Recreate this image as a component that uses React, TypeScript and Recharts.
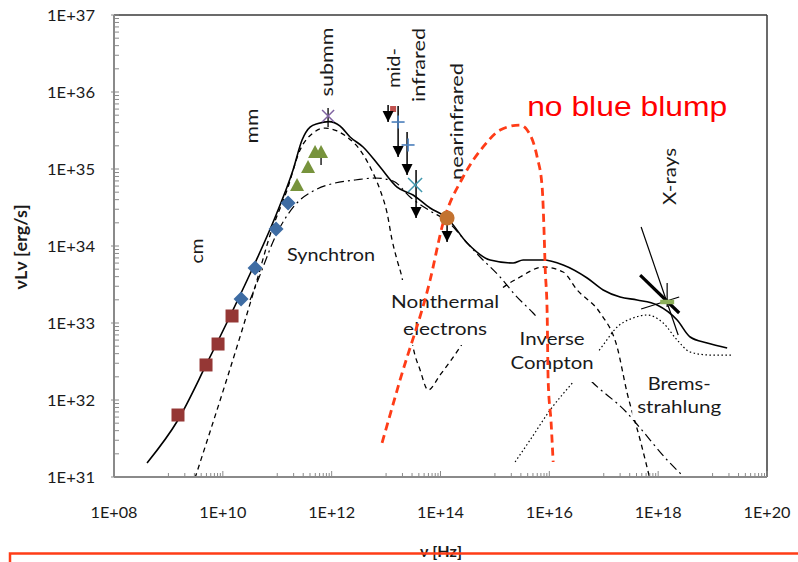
import React from 'react';
import { ComposedChart, Line, Scatter, XAxis, YAxis, ReferenceLine, ReferenceDot } from 'recharts';

const FONT = "Lato, 'Open Sans', sans-serif";
const ARIAL = "'Liberation Sans', Arial, sans-serif";
const AXIS_GRAY = '#8a8a8a';

// ---- values: log10(nu [Hz]) and log10(nuLnu [erg/s]) ----
const totalLogNu = [8.607, 9.176, 9.71, 10.169, 10.592, 10.978, 11.29, 11.456, 11.603, 11.75, 11.95, 12.15, 12.338, 12.577, 12.89, 13.202, 13.496, 13.809, 14.121, 14.489, 14.912, 15.335, 15.518, 15.886, 16.254, 16.695, 16.989, 17.301, 17.614, 17.982, 18.349, 18.588, 18.901, 19.268];
const totalLogL = [31.182, 31.74, 32.481, 33.143, 33.779, 34.403, 34.987, 35.377, 35.545, 35.59, 35.615, 35.56, 35.416, 35.286, 35.026, 34.766, 34.662, 34.494, 34.364, 34.039, 33.818, 33.779, 33.818, 33.818, 33.753, 33.584, 33.429, 33.338, 33.299, 33.234, 33.039, 32.818, 32.74, 32.675];

const thermalLogNu = [9.489, 10.629, 10.868, 11.18, 11.419, 11.658, 11.879, 12.099, 12.283, 12.522, 12.706, 12.89, 13.018, 13.11, 13.202, 13.294, 13.404, 13.496, 13.625, 13.772, 13.993, 14.36, 14.728, 15.04, 15.463, 15.886, 16.254, 16.511, 16.934, 17.246, 17.43, 17.669, 17.853];
const thermalLogL = [30.987, 33.558, 34.143, 34.727, 35.247, 35.468, 35.532, 35.494, 35.416, 35.247, 35.026, 34.727, 34.429, 34.078, 33.818, 33.584, 33.104, 32.688, 32.39, 32.13, 32.325, 32.688, 33.104, 33.39, 33.597, 33.727, 33.662, 33.429, 33.13, 32.688, 32.091, 31.481, 30.961];

const nonthermalLogNu = [10.5, 10.647, 10.996, 11.327, 11.695, 12.063, 12.43, 12.798, 13.129, 13.441, 13.809, 14.121, 14.489, 14.728, 15.096, 15.371, 15.702, 16.199, 16.75, 17.43, 17.669, 18.165, 18.533];
const nonthermalLogL = [33.299, 33.558, 34.169, 34.532, 34.727, 34.818, 34.857, 34.883, 34.844, 34.636, 34.455, 34.325, 34.039, 33.857, 33.597, 33.364, 33.13, 32.714, 32.26, 31.831, 31.636, 31.221, 30.961];

const bremsLogNu = [15.371, 15.647, 16.015, 16.438, 16.75, 16.989, 17.246, 17.54, 17.798, 18.092, 18.349, 18.588, 18.956, 19.379];
const bremsLogL = [31.195, 31.481, 31.87, 32.234, 32.494, 32.714, 32.948, 33.065, 33.104, 33.0, 32.779, 32.623, 32.584, 32.584];

const blumpLogNu = [12.926, 13.257, 13.809, 14.048, 14.415, 14.783, 15.096, 15.463, 15.592, 15.776, 15.868, 15.904, 15.923, 15.96, 15.978, 16.033, 16.07];
const blumpLogL = [31.442, 32.26, 33.558, 34.299, 34.896, 35.286, 35.506, 35.571, 35.506, 35.156, 34.766, 34.169, 33.727, 33.13, 32.26, 31.701, 31.195];

// observed points
const cmLogNu = [9.176, 9.691, 9.912, 10.169];
const cmLogL = [31.805, 32.455, 32.727, 33.091];
const mmLogNu = [10.335, 10.592, 10.978, 11.199];
const mmLogL = [33.312, 33.714, 34.221, 34.558];
const triLogNu = [11.364, 11.566, 11.695, 11.805];
const triLogL = [34.792, 35.026, 35.221, 35.221];
const submmLogNu = [11.934];
const submmLogL = [35.688];
const midRedLogNu = [13.129];
const midRedLogL = [35.779];
const midPlusLogNu = [13.221, 13.404];
const midPlusLogL = [35.61, 35.312];
const midCrossLogNu = [13.533];
const midCrossLogL = [34.792];
const nirLogNu = [14.121];
const nirLogL = [34.364];

// upper limits (arrows)
const arrowLogNu = [13.037, 13.221, 13.386, 13.551, 14.121];
const arrowTopLogL = [35.831, 35.818, 35.481, 34.987, 34.364];
const arrowTipLogL = [35.61, 35.156, 34.922, 34.364, 34.052];

// error bars [logNu, logL top, logL bottom]
const errBars = [[11.805, 35.286, 35.052], [11.934, 35.792, 35.545]];

// X-ray bow-tie [logNu1, logL1, logNu2, logL2]
const xrayThin = [[17.687, 34.247, 18.368, 32.844], [17.687, 33.182, 18.386, 33.338]];
const xrayThick = [[17.669, 33.623, 18.386, 33.13]];
const xrayErr = [[18.165, 33.52, 18.165, 33.208]];
const xrayBar = [[18.037, 33.273, 18.294, 33.273]];

// axes
const xMajorExp = [8, 10, 12, 14, 16, 18, 20];
const xTickLabels = ['1E+08', '1E+10', '1E+12', '1E+14', '1E+16', '1E+18', '1E+20'];
const xMinorExp = [9, 11, 13, 15, 17, 19];
const yMajorExp = [31, 32, 33, 34, 35, 36, 37];
const yTickLabels = ['1E+31', '1E+32', '1E+33', '1E+34', '1E+35', '1E+36', '1E+37'];
const yMinorExp = [31, 32, 33, 34, 35, 36];
const minorSteps = [2, 3, 4, 5, 6, 7, 8, 9];

const p10 = (v: number) => Math.pow(10, v);
const pts = (lx: number[], ly: number[]) => lx.map((v, i) => ({ x: p10(v), y: p10(ly[i]) }));

const xTicks = [
  ...xMajorExp.map(p10),
  ...xMinorExp.flatMap((e) => [1, ...minorSteps].map((k) => k * p10(e))),
].sort((a, b) => a - b);
const yTicks = [
  ...yMajorExp.map(p10),
  ...yMinorExp.flatMap((e) => minorSteps.map((k) => k * p10(e))),
].sort((a, b) => a - b);

// annotations: anchor in data coords (log), text lines
type Block = {
  lx: number; ly: number; lines: string[]; lens: number[]; rotate?: boolean; lh?: number;
  bg?: [number, number, number, number]; color?: string; size?: number; family?: string;
};
const annotations: Block[] = [
  { lx: 9.636, ly: 33.935, lines: ['cm'], lens: [25], rotate: true },
  { lx: 10.647, ly: 35.558, lines: ['mm'], lens: [35], rotate: true },
  { lx: 12.026, ly: 36.39, lines: ['submm'], lens: [69], rotate: true },
  { lx: 13.257, ly: 36.312, lines: ['mid-'], lens: [40], rotate: true },
  { lx: 13.717, ly: 36.351, lines: ['infrared'], lens: [74], rotate: true },
  { lx: 14.415, ly: 35.617, lines: ['nearinfrared'], lens: [117], rotate: true },
  { lx: 18.331, ly: 34.903, lines: ['X-rays'], lens: [57], rotate: true },
  { lx: 11.989, ly: 33.805, lines: ['Synchtron'], lens: [88], bg: [-47, -18, 94, 24] },
  { lx: 14.085, ly: 33.195, lines: ['Nonthermal', 'electrons'], lens: [108, 84], lh: 27, bg: [-57, -28, 114, 65] },
  { lx: 16.051, ly: 32.714, lines: ['Inverse', 'Compton'], lens: [65, 83], lh: 24, bg: [-47, -27, 93, 64] },
  { lx: 18.386, ly: 32.13, lines: ['Brems-', 'strahlung'], lens: [63, 84], lh: 23, bg: [-47, -22, 96, 52] },
];
const blumpLabel: Block = { lx: 17.43, ly: 35.688, lines: ['no blue blump'], lens: [200], color: '#ff0000', size: 27, family: ARIAL };

function Annot(props: any) {
  const { cx, cy, block } = props;
  const b: Block = block;
  const size = b.size ?? 18;
  const color = b.color ?? '#1a1a1a';
  const family = b.family ?? FONT;
  if (b.rotate) {
    return (
      <g transform={`translate(${cx},${cy}) rotate(-90)`}>
        {b.lines.map((t, i) => (
          <text key={i} x={0} y={i * (b.lh ?? 0)} textAnchor="middle" fontFamily={family} fontSize={size} fill={color}
            textLength={b.lens[i]} lengthAdjust="spacingAndGlyphs">{t}</text>
        ))}
      </g>
    );
  }
  return (
    <g>
      {b.bg && <rect x={cx + b.bg[0]} y={cy + b.bg[1]} width={b.bg[2]} height={b.bg[3]} fill="#ffffff" />}
      {b.lines.map((t, i) => (
        <text key={i} x={cx} y={cy + i * (b.lh ?? 0)} textAnchor="middle" fontFamily={family} fontSize={size} fill={color}
          textLength={b.lens[i]} lengthAdjust="spacingAndGlyphs">{t}</text>
      ))}
    </g>
  );
}

function XTick(props: any) {
  const { x, y, payload } = props;
  const lv = Math.log10(payload.value);
  const idx = xMajorExp.findIndex((e) => Math.abs(lv - e) < 1e-6);
  return (
    <g>
      <line x1={x} x2={x} y1={y} y2={y - (idx >= 0 ? 6 : 4)} stroke={AXIS_GRAY} strokeWidth={1} />
      {idx >= 0 && (
        <text x={x} y={y + 41} textAnchor="middle" fontFamily={FONT} fontSize={16} fill="#1a1a1a"
          textLength={47} lengthAdjust="spacingAndGlyphs">{xTickLabels[idx]}</text>
      )}
    </g>
  );
}

function YTick(props: any) {
  const { x, y, payload } = props;
  const lv = Math.log10(payload.value);
  const idx = yMajorExp.findIndex((e) => Math.abs(lv - e) < 1e-6);
  return (
    <g>
      <line x1={x - (idx >= 0 ? 3 : 0)} x2={x + 5} y1={y} y2={y} stroke={AXIS_GRAY} strokeWidth={1} />
      {idx >= 0 && (
        <text x={x - 19} y={y + 6} textAnchor="end" fontFamily={FONT} fontSize={16} fill="#1a1a1a"
          textLength={48} lengthAdjust="spacingAndGlyphs">{yTickLabels[idx]}</text>
      )}
    </g>
  );
}

const squareShape = (s: number, c: string) => (p: any) => <rect x={p.cx - s / 2} y={p.cy - s / 2} width={s} height={s} fill={c} />;
const diamondShape = (s: number, c: string) => (p: any) => (
  <polygon points={`${p.cx},${p.cy - s} ${p.cx + s},${p.cy} ${p.cx},${p.cy + s} ${p.cx - s},${p.cy}`} fill={c} />
);
const triangleShape = (s: number, c: string) => (p: any) => (
  <polygon points={`${p.cx},${p.cy - s} ${p.cx + s},${p.cy + s * 0.85} ${p.cx - s},${p.cy + s * 0.85}`} fill={c} />
);
const crossShape = (s: number, c: string) => (p: any) => (
  <g stroke={c} strokeWidth={1.5}>
    <line x1={p.cx - s} y1={p.cy - s} x2={p.cx + s} y2={p.cy + s} />
    <line x1={p.cx - s} y1={p.cy + s} x2={p.cx + s} y2={p.cy - s} />
  </g>
);
const plusShape = (s: number, c: string) => (p: any) => (
  <g stroke={c} strokeWidth={1.6}>
    <line x1={p.cx - s} y1={p.cy} x2={p.cx + s} y2={p.cy} />
    <line x1={p.cx} y1={p.cy - s} x2={p.cx} y2={p.cy + s} />
  </g>
);
const circleShape = (r: number, c: string) => (p: any) => <circle cx={p.cx} cy={p.cy} r={r} fill={c} />;
const arrowHead = (p: any) => (
  <polygon points={`${p.cx - 5.5},${p.cy - 11} ${p.cx + 5.5},${p.cy - 11} ${p.cx},${p.cy}`} fill="#000" />
);
const noShape = () => <g />;

const seg = (s: number[]) => [{ x: p10(s[0]), y: p10(s[1]) }, { x: p10(s[2]), y: p10(s[3]) }] as any;

export default function App() {
  return (
    <div style={{ position: 'absolute', left: 0, top: 0, width: 798, height: 562, background: '#fff', overflow: 'hidden' }}>
      <ComposedChart width={798} height={562} margin={{ top: 15, right: 31, bottom: 0, left: 0 }}>
        <XAxis dataKey="x" type="number" scale="log" domain={[1e8, 1e20]} allowDataOverflow ticks={xTicks} interval={0}
          tick={(p: any) => <XTick {...p} />} tickLine={false} tickSize={0} tickMargin={0} height={85}
          axisLine={{ stroke: AXIS_GRAY, strokeWidth: 2 }} />
        <YAxis dataKey="y" type="number" scale="log" domain={[1e31, 1e37]} allowDataOverflow ticks={yTicks} interval={0}
          tick={(p: any) => <YTick {...p} />} tickLine={false} tickSize={0} tickMargin={0} width={114}
          axisLine={{ stroke: AXIS_GRAY, strokeWidth: 2 }} />
        <ReferenceLine y={1e37} stroke="#3a3a3a" strokeWidth={1.5} ifOverflow="visible" />
        <ReferenceLine x={1e20} stroke="#3a3a3a" strokeWidth={1.5} ifOverflow="visible" />

        <Line data={pts(bremsLogNu, bremsLogL)} dataKey="y" type="monotone" stroke="#000" strokeWidth={1.2}
          strokeDasharray="1.5 2.5" dot={false} activeDot={false} isAnimationActive={false} />
        <Line data={pts(nonthermalLogNu, nonthermalLogL)} dataKey="y" type="monotone" stroke="#000" strokeWidth={1.2}
          strokeDasharray="9 4 2 4" dot={false} activeDot={false} isAnimationActive={false} />
        <Line data={pts(thermalLogNu, thermalLogL)} dataKey="y" type="monotone" stroke="#000" strokeWidth={1.3}
          strokeDasharray="5 4" dot={false} activeDot={false} isAnimationActive={false} />
        <Line data={pts(totalLogNu, totalLogL)} dataKey="y" type="monotone" stroke="#000" strokeWidth={1.6}
          dot={false} activeDot={false} isAnimationActive={false} />

        {annotations.map((b, i) => (
          <ReferenceDot key={`a${i}`} x={p10(b.lx)} y={p10(b.ly)} r={0} ifOverflow="visible"
            shape={(p: any) => <Annot {...p} block={b} />} />
        ))}
        <ReferenceDot x={p10(blumpLabel.lx)} y={p10(blumpLabel.ly)} r={0} ifOverflow="visible"
          shape={(p: any) => <Annot {...p} block={blumpLabel} />} />

        {arrowLogNu.map((v, i) => (
          <ReferenceLine key={`s${i}`} segment={seg([v, arrowTopLogL[i], v, arrowTipLogL[i]])} stroke="#000" strokeWidth={1.5} ifOverflow="visible" />
        ))}
        {errBars.map((e, i) => (
          <ReferenceLine key={`e${i}`} segment={seg([e[0], e[1], e[0], e[2]])} stroke="#000" strokeWidth={1.3} ifOverflow="visible" />
        ))}
        {xrayThin.map((s, i) => (
          <ReferenceLine key={`xt${i}`} segment={seg(s)} stroke="#000" strokeWidth={1.2} ifOverflow="visible" />
        ))}
        {xrayThick.map((s, i) => (
          <ReferenceLine key={`xk${i}`} segment={seg(s)} stroke="#000" strokeWidth={3.2} ifOverflow="visible" />
        ))}
        {xrayErr.map((s, i) => (
          <ReferenceLine key={`xe${i}`} segment={seg(s)} stroke="#000" strokeWidth={1.2} ifOverflow="visible" />
        ))}
        {xrayBar.map((s, i) => (
          <ReferenceLine key={`xb${i}`} segment={seg(s)} stroke="#8db05a" strokeWidth={4.5} ifOverflow="visible" />
        ))}

        {/* "no blue blump" model curve, drawn above the label boxes */}
        <Scatter data={pts(blumpLogNu, blumpLogL)} dataKey="y" shape={noShape} line={{ stroke: '#ff3c17', strokeWidth: 2.8, strokeDasharray: '8 5', fill: 'none' }}
          lineType="joint" lineJointType="monotoneX" isAnimationActive={false} />

        <Scatter data={pts(cmLogNu, cmLogL)} dataKey="y" shape={squareShape(13, '#953735')} isAnimationActive={false} />
        <Scatter data={pts(mmLogNu, mmLogL)} dataKey="y" shape={diamondShape(7.5, '#3e6ca3')} isAnimationActive={false} />
        <Scatter data={pts(triLogNu, triLogL)} dataKey="y" shape={triangleShape(7, '#77933c')} isAnimationActive={false} />
        <Scatter data={pts(submmLogNu, submmLogL)} dataKey="y" shape={crossShape(6, '#8064a2')} isAnimationActive={false} />
        <Scatter data={pts(midRedLogNu, midRedLogL)} dataKey="y" shape={squareShape(6, '#c0504d')} isAnimationActive={false} />
        <Scatter data={pts(midPlusLogNu, midPlusLogL)} dataKey="y" shape={plusShape(6.5, '#4a7ebb')} isAnimationActive={false} />
        <Scatter data={pts(midCrossLogNu, midCrossLogL)} dataKey="y" shape={crossShape(7, '#4198ae')} isAnimationActive={false} />
        <Scatter data={pts(nirLogNu, nirLogL)} dataKey="y" shape={circleShape(7.5, '#c3722f')} isAnimationActive={false} />
        <Scatter data={pts(arrowLogNu, arrowTipLogL)} dataKey="y" shape={arrowHead} isAnimationActive={false} />
      </ComposedChart>
      <svg width={798} height={562} style={{ position: 'absolute', left: 0, top: 0, pointerEvents: 'none' }}>
        <text transform="translate(27,247) rotate(-90)" x={0} y={0} textAnchor="middle" fontFamily={FONT} fontWeight="bold"
          fontSize={17} fill="#1a1a1a" textLength={85} lengthAdjust="spacingAndGlyphs">νLν [erg/s]</text>
        <text x={441} y={557} textAnchor="middle" fontFamily={FONT} fontWeight="bold" fontSize={16} fill="#1a1a1a"
          textLength={42} lengthAdjust="spacingAndGlyphs">ν [Hz]</text>
        <path d="M10,562 L10,553.5 L798,553.5" fill="none" stroke="#ff3d17" strokeWidth={2.5} />
      </svg>
    </div>
  );
}
